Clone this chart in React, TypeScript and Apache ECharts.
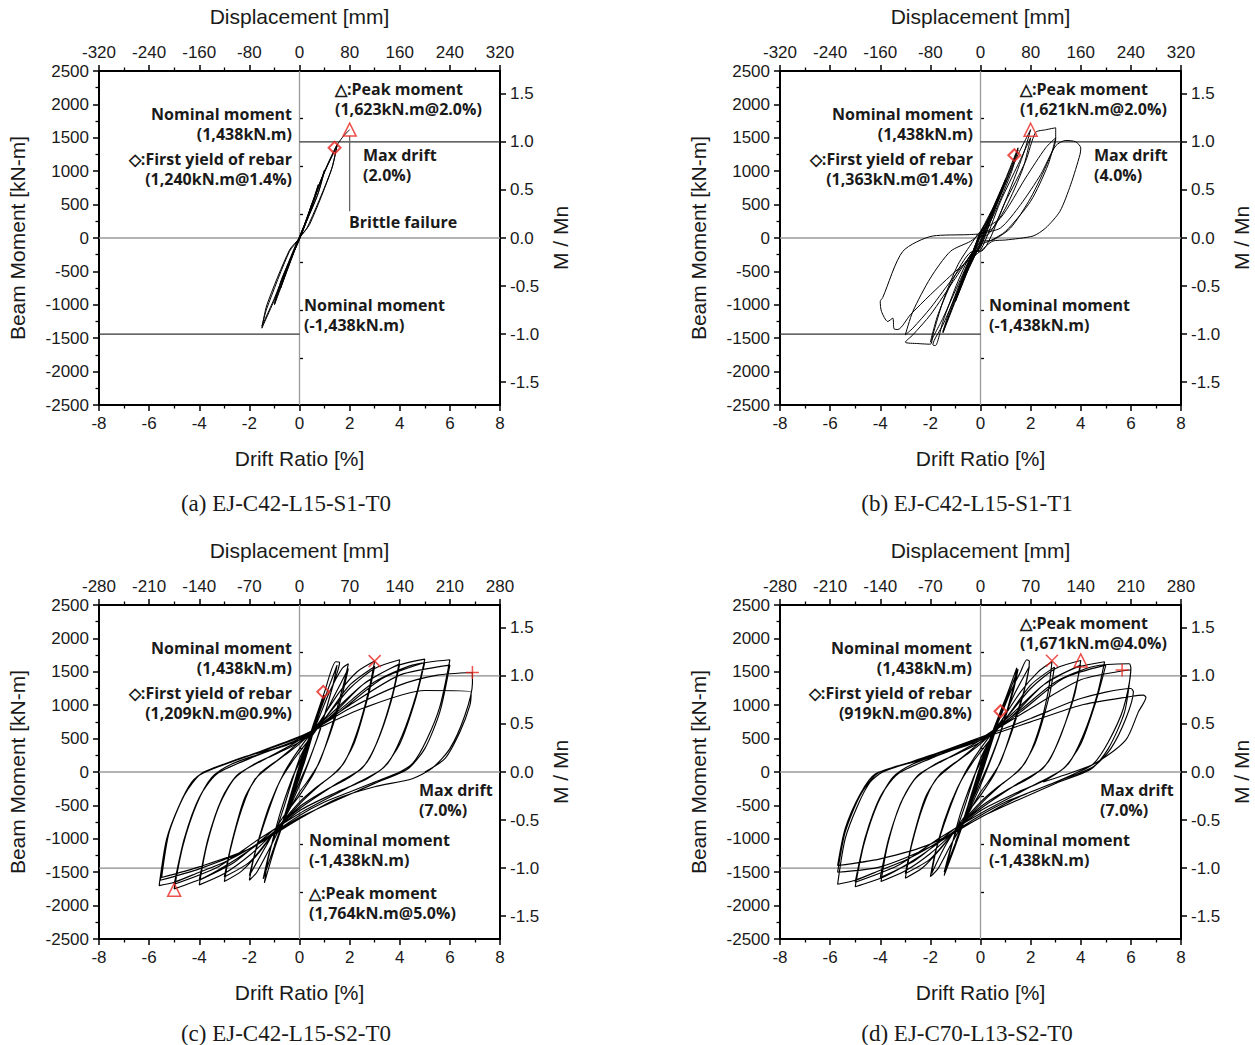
import React, { useEffect, useRef } from "react";
import * as echarts from "echarts";

// ---------------- data ----------------
const NOMINAL_MOMENT = 1438;
const driftMin = -8;
const driftMax = 8;
const driftInterval = 2;
const momentMin = -2500;
const momentMax = 2500;
const momentInterval = 500;
const dispAB = [-320, 320, 80];
const dispCD = [-280, 280, 70];
const ratioTicks = [-1.5, -1.0, -0.5, 0, 0.5, 1.0, 1.5];
const ratioMinorTicks = [-1.25, -0.75, -0.25, 0.25, 0.75, 1.25];

const captions = [
  "(a) EJ-C42-L15-S1-T0",
  "(b) EJ-C42-L15-S1-T1",
  "(c) EJ-C42-L15-S2-T0",
  "(d) EJ-C70-L13-S2-T0",
];

const pathA = [
  [0, 0], [0.25, 250], [0.5, 520], [0.3, 280], [0, 20], [-0.25, -230], [-0.5, -480], [-0.3, -260], [0, -20],
  [0.4, 400], [0.75, 800], [0.5, 480], [0, 20], [-0.4, -380], [-0.75, -750], [-0.5, -440], [0, -20],
  [0.5, 500], [1.0, 1000], [0.7, 620], [0, 10], [-0.5, -480], [-1.0, -980], [-0.7, -600], [0, -10],
  [0.7, 700], [1.0, 1020], [0.75, 680], [0, 0], [-1.0, -1000], [-0.7, -630], [0, 0],
  [0.8, 820], [1.5, 1380], [1.25, 1000], [0.3, 150], [-0.05, -30], [-0.8, -750], [-1.5, -1350], [-1.3, -1000], [-0.4, -180], [0.05, 30],
  [0.9, 900], [1.5, 1400], [1.3, 1050], [0.4, 200], [-0.05, -20], [-1.0, -900], [-1.5, -1320], [-1.3, -1050], [-0.4, -200], [0, 0],
  [1.0, 1000], [1.45, 1360], [1.7, 1500], [2.0, 1623],
];

const pathB = [
  [0, 0], [0.25, 220], [0.5, 420], [0.3, 230], [0, 30], [-0.25, -230], [-0.5, -430], [-0.3, -250], [0, -30],
  [0.4, 350], [0.75, 640], [0.5, 420], [0, 60], [-0.4, -370], [-0.75, -680], [-0.5, -460], [0, -60],
  [0.5, 450], [1.0, 880], [0.7, 600], [0, 80], [-0.5, -480], [-1.0, -950], [-0.7, -650], [0, -80],
  [0.5, 430], [1.0, 860], [0.7, 560], [0, 60], [-1.0, -930], [-0.7, -620], [0, -90],
  [0.7, 600], [1.5, 1350], [1.2, 1000], [0.5, 380], [0, 100], [-0.7, -650], [-1.5, -1420], [-1.2, -1100], [-0.5, -400], [0, -120],
  [0.7, 580], [1.5, 1320], [1.2, 950], [0.4, 250], [0, 80], [-0.7, -630], [-1.5, -1400], [-1.2, -1050], [-0.4, -300], [0, -140],
  [0.8, 650], [1.5, 1250], [2.0, 1621], [1.75, 1300], [1.2, 750], [0.5, 150], [0, 60], [-0.8, -700], [-1.5, -1300], [-1.9, -1600], [-1.8, -1610], [-1.5, -1250], [-0.9, -650], [-0.3, -200], [0, -180],
  [0.8, 550], [1.5, 1100], [2.0, 1500], [1.7, 1050], [1.0, 450], [0.3, 50], [0, 20], [-0.8, -620], [-1.5, -1200], [-2.0, -1560], [-1.7, -1150], [-1.0, -550], [-0.3, -200], [0, -200],
  [1.0, 550], [1.8, 1150], [2.2, 1580], [2.6, 1620], [3.0, 1650], [3.0, 1480], [2.7, 1150], [2.0, 600], [1.2, 150], [0.5, -30], [0, -60], [-1.0, -600], [-2.0, -1150], [-2.7, -1450], [-3.0, -1560], [-2.5, -1580], [-2.0, -1590], [-1.9, -1450], [-1.5, -950], [-0.9, -400], [-0.3, -50], [0, 100],
  [0.8, 300], [1.8, 900], [2.6, 1350], [3.0, 1500], [2.7, 1100], [2.0, 550], [1.0, 100], [0.4, -40], [0, -100], [-1.0, -550], [-2.0, -1050], [-2.7, -1350], [-3.0, -1450], [-2.7, -1100], [-2.0, -600], [-1.2, -200], [-0.4, -50], [0, 60],
  [0.8, 150], [1.6, 500], [2.4, 950], [3.0, 1380], [3.4, 1460], [3.8, 1440], [4.0, 1350], [3.97, 1250], [3.6, 800], [3.17, 400], [2.6, 150], [2.1, 30], [1.0, -30], [0.5, -45], [0, -195],
  [-1.0, -500], [-2.0, -850], [-2.8, -1150], [-3.3, -1370], [-3.45, -1360], [-3.5, -1200], [-3.7, -1250], [-3.95, -1100], [-4.0, -950], [-3.9, -890], [-3.1, -200], [-1.9, 30], [-0.5, 50], [0, 60],
];

const pathC = [
  [0, 0], [0.25, 300], [0.5, 560], [0.35, 380], [0.1, 80], [0, -20], [-0.25, -300], [-0.5, -560], [-0.35, -380], [-0.1, -80], [0, 20],
  [0.5, 530], [0.3, 300], [0, -30], [-0.5, -530], [-0.3, -300], [0, 30],
  [0.4, 450], [0.75, 850], [0.55, 600], [0.1, 60], [0, -40], [-0.4, -450], [-0.75, -850], [-0.55, -600], [-0.1, -60], [0, 50],
  [0.5, 600], [1.0, 1150], [0.75, 850], [0.2, 150], [0, -60], [-0.5, -600], [-1.0, -1150], [-0.75, -850], [-0.2, -150], [0, 80],
  [0.5, 580], [1.0, 1100], [0.7, 780], [0, -80], [-1.0, -1100], [-0.7, -780], [0, 100],
  [0.5, 650], [1.0, 1200], [1.45, 1650], [1.6, 1640], [1.3, 1250], [0.8, 600], [0.3, 100], [0, -150], [-0.5, -600], [-1.0, -1150], [-1.4, -1660], [-1.25, -1300], [-0.8, -650], [-0.3, -100], [0, 150],
  [0.6, 700], [1.2, 1300], [1.5, 1600], [1.3, 1250], [0.7, 500], [0, -200], [-0.7, -800], [-1.45, -1600], [-1.2, -1200], [-0.6, -500], [0, 200],
  [0.6, 650], [1.2, 1200], [1.7, 1550], [1.95, 1620], [1.75, 1300], [1.3, 700], [0.8, 150], [0.3, -150], [0, -300], [-0.6, -700], [-1.2, -1150], [-1.7, -1500], [-2.0, -1620], [-1.8, -1250], [-1.3, -650], [-0.8, -150], [-0.3, 150], [0, 300],
  [0.7, 650], [1.4, 1150], [1.95, 1550], [1.7, 1150], [1.2, 550], [0.6, 0], [0, -350], [-0.7, -700], [-1.4, -1150], [-2.0, -1550], [-1.7, -1100], [-1.2, -500], [-0.6, 0], [0, 350],
  [0.8, 750], [1.6, 1200], [2.3, 1500], [3.0, 1660], [2.75, 1200], [2.3, 600], [1.8, 150], [1.3, -50], [0.6, -250], [0, -450], [-0.8, -800], [-1.6, -1200], [-2.3, -1480], [-3.0, -1640], [-2.75, -1150], [-2.3, -550], [-1.8, -120], [-1.2, 80], [-0.6, 250], [0, 420],
  [1.0, 800], [2.0, 1300], [3.0, 1580], [2.75, 1150], [2.2, 450], [1.6, 50], [0.8, -200], [0, -480], [-1.0, -900], [-2.0, -1350], [-3.0, -1570], [-2.7, -1050], [-2.2, -400], [-1.6, -30], [-0.8, 200], [0, 450],
  [1.0, 800], [2.0, 1250], [3.0, 1550], [4.0, 1680], [3.7, 1150], [3.2, 550], [2.7, 150], [2.0, -80], [1.0, -280], [0, -520], [-1.0, -900], [-2.0, -1250], [-3.0, -1520], [-4.0, -1690], [-3.7, -1100], [-3.2, -500], [-2.6, -100], [-1.8, 120], [-1.0, 260], [0, 450],
  [1.3, 850], [2.6, 1330], [4.0, 1620], [3.65, 1050], [3.1, 450], [2.5, 60], [1.5, -170], [0, -550], [-1.3, -950], [-2.6, -1350], [-4.0, -1620], [-3.65, -1000], [-3.1, -400], [-2.5, -50], [-1.5, 170], [0, 480],
  [1.2, 850], [2.5, 1300], [3.8, 1580], [5.0, 1690], [4.65, 1150], [4.1, 550], [3.5, 120], [2.7, -100], [1.5, -300], [0, -580], [-1.2, -950], [-2.5, -1300], [-3.8, -1580], [-5.0, -1750], [-4.65, -1100], [-4.1, -480], [-3.5, -80], [-2.7, 120], [-1.5, 280], [0, 480],
  [1.6, 900], [3.3, 1400], [5.0, 1640], [4.6, 1050], [4.0, 420], [3.3, 50], [2.0, -220], [0, -620], [-1.6, -1000], [-3.3, -1430], [-5.0, -1680], [-4.6, -1000], [-4.0, -380], [-3.3, -30], [-2.0, 200], [0, 500],
  [1.5, 900], [3.0, 1350], [4.5, 1600], [6.0, 1680], [5.6, 980], [5.07, 480], [4.53, 135], [4.0, 0], [3.0, -150], [2.0, -300], [1.0, -450], [0, -650], [-1.0, -900], [-2.0, -1150], [-3.0, -1350], [-4.0, -1500], [-5.0, -1650], [-5.6, -1700], [-5.3, -1000], [-4.8, -500], [-4.3, -150], [-3.8, 0], [-3.0, 120], [-2.0, 250], [-1.0, 350], [0, 500],
  [2.0, 1000], [4.0, 1450], [6.0, 1600], [5.6, 900], [5.0, 350], [4.3, 40], [3.0, -170], [0, -680], [-2.0, -1150], [-4.0, -1450], [-5.55, -1620], [-5.2, -900], [-4.6, -350], [-3.9, -20], [-2.5, 180], [0, 520],
  [2.0, 950], [4.0, 1300], [5.5, 1450], [6.9, 1490], [6.9, 1330], [6.6, 850], [6.0, 350], [5.3, 60], [4.5, -100], [3.0, -220], [1.5, -400], [0, -700], [-2.0, -1150], [-4.0, -1420], [-5.5, -1580], [-5.2, -900], [-4.6, -350], [-4.0, -50], [-2.5, 180], [0, 530],
  [2.5, 950], [5.0, 1220], [6.85, 1200], [6.8, 1000], [6.4, 600], [5.8, 200], [5.0, 0],
];

const pathD = [
  [0, 0], [0.25, 280], [0.5, 520], [0.35, 350], [0.1, 60], [0, -20], [-0.25, -280], [-0.5, -520], [-0.35, -350], [-0.1, -60], [0, 20],
  [0.5, 500], [0.3, 280], [0, -30], [-0.5, -500], [-0.3, -280], [0, 30],
  [0.4, 420], [0.75, 800], [0.55, 560], [0.1, 60], [0, -40], [-0.4, -420], [-0.75, -800], [-0.55, -560], [-0.1, -60], [0, 50],
  [0.5, 580], [0.8, 910], [1.0, 1100], [0.75, 800], [0.2, 150], [0, -60], [-0.5, -580], [-1.0, -1080], [-0.75, -800], [-0.2, -150], [0, 80],
  [0.5, 560], [1.0, 1060], [0.7, 740], [0, -80], [-1.0, -1050], [-0.7, -740], [0, 100],
  [0.5, 620], [1.0, 1100], [1.45, 1560], [1.3, 1250], [0.8, 600], [0.3, 100], [0, -150], [-0.5, -580], [-1.0, -1100], [-1.45, -1550], [-1.25, -1250], [-0.8, -620], [-0.3, -100], [0, 150],
  [0.6, 680], [1.2, 1250], [1.5, 1540], [1.3, 1200], [0.7, 480], [0, -200], [-0.7, -780], [-1.45, -1500], [-1.2, -1150], [-0.6, -480], [0, 200],
  [0.6, 650], [1.2, 1200], [1.6, 1500], [1.85, 1680], [1.95, 1660], [1.8, 1300], [1.3, 700], [0.8, 150], [0.3, -150], [0, -300], [-0.6, -700], [-1.2, -1100], [-1.7, -1450], [-2.0, -1565], [-1.8, -1200], [-1.3, -620], [-0.8, -150], [-0.3, 150], [0, 300],
  [0.7, 650], [1.4, 1200], [1.95, 1580], [1.7, 1150], [1.2, 550], [0.6, 0], [0, -350], [-0.7, -700], [-1.4, -1100], [-1.95, -1520], [-1.7, -1050], [-1.2, -480], [-0.6, 0], [0, 350],
  [0.8, 750], [1.6, 1200], [2.3, 1500], [2.85, 1650], [2.7, 1200], [2.3, 600], [1.8, 150], [1.3, -50], [0.6, -250], [0, -450], [-0.8, -780], [-1.6, -1150], [-2.3, -1430], [-3.0, -1590], [-2.75, -1100], [-2.3, -520], [-1.8, -120], [-1.2, 80], [-0.6, 250], [0, 420],
  [1.0, 800], [2.0, 1300], [2.95, 1570], [2.75, 1150], [2.2, 450], [1.6, 50], [0.8, -200], [0, -480], [-1.0, -880], [-2.0, -1300], [-3.0, -1520], [-2.7, -1000], [-2.2, -380], [-1.6, -30], [-0.8, 200], [0, 450],
  [1.0, 800], [2.0, 1250], [3.0, 1550], [4.0, 1670], [3.75, 1150], [3.2, 550], [2.7, 150], [2.0, -80], [1.0, -280], [0, -520], [-1.0, -880], [-2.0, -1220], [-3.0, -1480], [-3.97, -1640], [-3.7, -1080], [-3.2, -480], [-2.6, -100], [-1.8, 120], [-1.0, 260], [0, 450],
  [1.3, 850], [2.6, 1330], [4.0, 1600], [3.65, 1050], [3.1, 450], [2.5, 60], [1.5, -170], [0, -550], [-1.3, -930], [-2.6, -1320], [-4.0, -1580], [-3.65, -980], [-3.1, -400], [-2.5, -50], [-1.5, 170], [0, 480],
  [1.2, 850], [2.5, 1300], [3.8, 1560], [4.95, 1650], [4.65, 1150], [4.1, 550], [3.5, 120], [2.7, -100], [1.5, -300], [0, -580], [-1.2, -930], [-2.5, -1280], [-3.8, -1560], [-5.0, -1717], [-4.65, -1080], [-4.1, -470], [-3.5, -80], [-2.7, 120], [-1.5, 280], [0, 480],
  [1.6, 900], [3.3, 1400], [5.0, 1600], [4.6, 1050], [4.0, 420], [3.3, 50], [2.0, -220], [0, -620], [-1.6, -980], [-3.3, -1400], [-5.0, -1650], [-4.6, -980], [-4.0, -370], [-3.3, -30], [-2.0, 200], [0, 500],
  [1.5, 900], [3.0, 1350], [4.5, 1580], [5.93, 1620], [6.0, 1550], [5.7, 950], [5.1, 450], [4.5, 120], [3.9, 0], [3.0, -150], [2.0, -300], [1.0, -450], [0, -650], [-1.0, -880], [-2.0, -1120], [-3.0, -1320], [-4.0, -1470], [-5.0, -1620], [-5.7, -1680], [-5.4, -1000], [-4.9, -500], [-4.4, -150], [-3.9, 0], [-3.0, 120], [-2.0, 250], [-1.0, 350], [0, 500],
  [2.0, 950], [4.0, 1380], [6.0, 1530], [5.75, 900], [5.1, 350], [4.4, 40], [3.0, -170], [0, -680], [-2.0, -1120], [-4.0, -1420], [-5.7, -1500], [-5.4, -900], [-4.8, -350], [-4.1, -20], [-2.5, 180], [0, 520],
  [2.0, 800], [4.0, 1100], [6.0, 1250], [6.1, 1200], [5.8, 800], [5.2, 350], [4.5, 80], [3.0, -150], [1.5, -380], [0, -680], [-2.0, -1080], [-4.0, -1300], [-5.7, -1400], [-5.4, -850], [-4.8, -330], [-4.2, -30], [-2.5, 170], [0, 500],
  [2.0, 750], [4.0, 1000], [6.0, 1130], [6.5, 1150], [6.6, 1120], [6.3, 900], [5.8, 480], [4.6, 135], [3.7, 0], [2.5, -150],
];

const triangles = [[[2.0, 1623]], [[2.0, 1621]], [[-5.0, -1764]], [[4.0, 1671]]];
const diamonds = [[[1.4, 1350]], [[1.35, 1240]], [[0.95, 1200]], [[0.8, 910]]];
const crosses = [[], [], [[3.0, 1660]], [[2.85, 1665]]];
const pluses = [[], [], [[6.9, 1490]], [[5.65, 1527]]];
const brittleLine = [[2.0, 1530], [2.0, 400]];

// ---------------- layout ----------------
const GW = 401;
const GH = 334;
const gridPos = [
  { left: 99, top: 71 },
  { left: 780, top: 71 },
  { left: 99, top: 605 },
  { left: 780, top: 605 },
];

const ANN_FONT = 'bold 16px "Open Sans", "Noto Sans", sans-serif';
// each note: two-line block, y = centre of the block, lh = line spacing
const annotations = [
  [
    { t: "Nominal moment\n(1,438kN.m)", x: 292, y: 124, a: "right", lh: 20 },
    { t: "◇:First yield of rebar\n(1,240kN.m@1.4%)", x: 292, y: 169, a: "right", lh: 20 },
    { t: "△:Peak moment\n(1,623kN.m@2.0%)", x: 335, y: 99, a: "left", lh: 20 },
    { t: "Max drift\n(2.0%)", x: 363, y: 165, a: "left", lh: 20 },
    { t: "Brittle failure", x: 349, y: 222, a: "left", lh: 20 },
    { t: "Nominal moment\n(-1,438kN.m)", x: 304, y: 315, a: "left", lh: 20 },
  ],
  [
    { t: "Nominal moment\n(1,438kN.m)", x: 973, y: 124, a: "right", lh: 20 },
    { t: "◇:First yield of rebar\n(1,363kN.m@1.4%)", x: 973, y: 169, a: "right", lh: 20 },
    { t: "△:Peak moment\n(1,621kN.m@2.0%)", x: 1020, y: 99, a: "left", lh: 20 },
    { t: "Max drift\n(4.0%)", x: 1094, y: 165, a: "left", lh: 20 },
    { t: "Nominal moment\n(-1,438kN.m)", x: 989, y: 315, a: "left", lh: 20 },
  ],
  [
    { t: "Nominal moment\n(1,438kN.m)", x: 292, y: 658, a: "right", lh: 20 },
    { t: "◇:First yield of rebar\n(1,209kN.m@0.9%)", x: 292, y: 703, a: "right", lh: 20 },
    { t: "Max drift\n(7.0%)", x: 419, y: 800, a: "left", lh: 20 },
    { t: "Nominal moment\n(-1,438kN.m)", x: 309, y: 850, a: "left", lh: 20 },
    { t: "△:Peak moment\n(1,764kN.m@5.0%)", x: 309, y: 903, a: "left", lh: 20 },
  ],
  [
    { t: "Nominal moment\n(1,438kN.m)", x: 972, y: 658, a: "right", lh: 20 },
    { t: "◇:First yield of rebar\n(919kN.m@0.8%)", x: 972, y: 703, a: "right", lh: 20 },
    { t: "△:Peak moment\n(1,671kN.m@4.0%)", x: 1020, y: 633, a: "left", lh: 20 },
    { t: "Max drift\n(7.0%)", x: 1100, y: 800, a: "left", lh: 20 },
    { t: "Nominal moment\n(-1,438kN.m)", x: 989, y: 850, a: "left", lh: 20 },
  ],
];
const captionPos = [
  { x: 286, y: 503 },
  { x: 967, y: 503 },
  { x: 286, y: 1033 },
  { x: 967, y: 1033 },
];

const AXIS_FONT = '"Liberation Sans", Arial, sans-serif';
const RED = "#e8261f";

function buildOption() {
  const paths = [pathA, pathB, pathC, pathD];
  const grid: any[] = [];
  const xAxis: any[] = [];
  const yAxis: any[] = [];
  const series: any[] = [];
  const graphic: any[] = [];
  const ratioMax = momentMax / NOMINAL_MOMENT;

  const line = { show: true, onZero: false, lineStyle: { color: "#000", width: 2 } };
  const tick = { show: true, inside: false, length: 6, lineStyle: { color: "#000", width: 1.5 } };
  const minor = { show: true, splitNumber: 2, length: 3.5, lineStyle: { color: "#000", width: 1.3 } };
  const lbl = { fontFamily: AXIS_FONT, fontSize: 17, color: "#1a1a1a", formatter: (v: number) => String(v) };
  const nameStyle = { fontFamily: AXIS_FONT, fontSize: 21, color: "#1a1a1a" };

  for (let i = 0; i < 4; i++) {
    grid.push({ left: gridPos[i].left, top: gridPos[i].top, width: GW, height: GH, containLabel: false });
    const disp = i < 2 ? dispAB : dispCD;
    xAxis.push({
      type: "value", gridIndex: i, position: "bottom", min: driftMin, max: driftMax, interval: driftInterval,
      axisLine: line, axisTick: tick, minorTick: minor, splitLine: { show: false },
      axisLabel: { ...lbl, margin: 10 },
      name: "Drift Ratio [%]", nameLocation: "middle", nameGap: 43, nameTextStyle: nameStyle,
    });
    xAxis.push({
      type: "value", gridIndex: i, position: "top", min: disp[0], max: disp[1], interval: disp[2],
      axisLine: line, axisTick: tick, minorTick: minor, splitLine: { show: false },
      axisLabel: { ...lbl, margin: 10 },
      name: "Displacement [mm]", nameLocation: "middle", nameGap: 44, nameTextStyle: nameStyle,
    });
    yAxis.push({
      type: "value", gridIndex: i, position: "left", min: momentMin, max: momentMax, interval: momentInterval,
      axisLine: line, axisTick: tick, minorTick: minor, splitLine: { show: false },
      axisLabel: { ...lbl, margin: 10 },
      name: "Beam Moment [kN-m]", nameLocation: "middle", nameGap: 71, nameTextStyle: nameStyle,
    });
    yAxis.push({
      type: "value", gridIndex: i, position: "right", min: -ratioMax, max: ratioMax,
      axisLine: line,
      axisTick: { ...tick, customValues: ratioTicks },
      splitLine: { show: false },
      axisLabel: { ...lbl, margin: 10, customValues: ratioTicks, formatter: (v: number) => v.toFixed(1) },
      name: "M / Mn", nameLocation: "middle", nameGap: 50, nameTextStyle: nameStyle,
    });
    yAxis.push({
      type: "value", gridIndex: i, position: "right", min: -ratioMax, max: ratioMax,
      axisLine: { show: false },
      axisTick: { show: true, inside: false, length: 3.5, lineStyle: { color: "#000", width: 1.3 }, customValues: ratioMinorTicks },
      axisLabel: { show: false },
      splitLine: { show: false },
    });

    const xi = i * 2;
    const yi = i * 3;
    const refColor = "#9a9a9a";
    const nomColor = i < 2 ? "#333" : "#888";
    const base = { type: "line", xAxisIndex: xi, yAxisIndex: yi, symbol: "none", silent: true, animation: false };
    series.push({ ...base, data: [[driftMin, 0], [driftMax, 0]], lineStyle: { color: refColor, width: 1.3 }, z: 1 });
    series.push({ ...base, data: [[0, momentMin], [0, momentMax]], lineStyle: { color: refColor, width: 1.3 }, z: 1 });
    series.push({ ...base, data: [[0, NOMINAL_MOMENT], [driftMax, NOMINAL_MOMENT]], lineStyle: { color: nomColor, width: 1.2 }, z: 1 });
    series.push({ ...base, data: [[driftMin, -NOMINAL_MOMENT], [0, -NOMINAL_MOMENT]], lineStyle: { color: nomColor, width: 1.2 }, z: 1 });
    if (i === 0) {
      series.push({ ...base, data: brittleLine, lineStyle: { color: "#666", width: 1.3 }, z: 1 });
    }
    series.push({ ...base, data: paths[i], lineStyle: { color: "#000", width: i < 2 ? 1 : 1.15 }, smooth: 0.25, z: 3 });

    const sc = { type: "scatter", xAxisIndex: xi, yAxisIndex: yi, silent: true, z: 5,
      itemStyle: { color: "rgba(0,0,0,0)", borderColor: RED, borderWidth: 1.5 } };
    series.push({ ...sc, symbol: "triangle", symbolSize: 13, data: triangles[i] });
    series.push({ ...sc, symbol: "diamond", symbolSize: 12, data: diamonds[i], itemStyle: { ...sc.itemStyle, borderWidth: 2 } });
    if (crosses[i].length) series.push({ ...sc, symbol: "path://M0,0L10,10M0,10L10,0", symbolSize: 12, data: crosses[i] });
    if (pluses[i].length) series.push({ ...sc, symbol: "path://M5,0L5,10M0,5L10,5", symbolSize: 13, data: pluses[i] });

    annotations[i].forEach((n) => {
      graphic.push({
        type: "text", x: n.x, y: n.y, silent: true, z: 10,
        style: { text: n.t, font: ANN_FONT, lineHeight: n.lh, fill: "#1a1a1a", align: n.a, verticalAlign: "middle" },
      });
    });
    graphic.push({
      type: "text", x: captionPos[i].x, y: captionPos[i].y, silent: true,
      style: { text: captions[i], font: '23px "Liberation Serif", "Times New Roman", serif', fill: "#1a1a1a", align: "center", verticalAlign: "middle" },
    });
  }

  return { animation: false, backgroundColor: "#fff", grid, xAxis, yAxis, series, graphic };
}

export default function App() {
  const ref = useRef<HTMLDivElement>(null);
  useEffect(() => {
    if (!ref.current) return;
    const chart = echarts.init(ref.current, undefined, { renderer: "svg" });
    chart.setOption(buildOption() as any);
    return () => chart.dispose();
  }, []);
  return <div ref={ref} style={{ position: "absolute", left: 0, top: 0, width: 1255, height: 1045 }} />;
}
